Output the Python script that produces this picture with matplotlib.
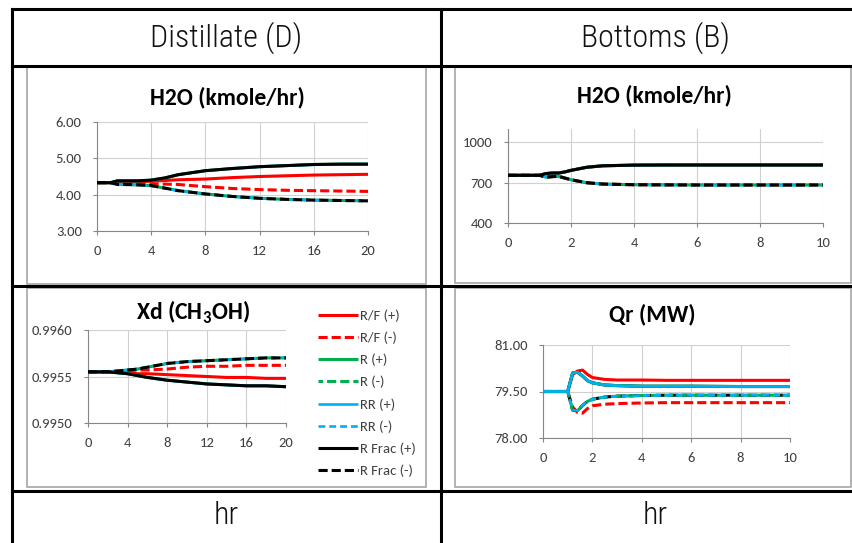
import numpy as np
import matplotlib
matplotlib.use("Agg")
import matplotlib.pyplot as plt
from matplotlib.lines import Line2D
from matplotlib.patches import Rectangle

W, H = 853, 543

# time axes (hr)
t20 = [0, 1, 1.5, 2, 3, 4, 5, 6, 8, 10, 12, 14, 16, 18, 20]
t10 = [0, 1, 1.2, 1.4, 1.6, 1.8, 2, 2.5, 3, 4, 5, 6, 8, 10]

labels = ["R/F (+)", "R/F (-)", "R (+)", "R (-)", "RR (+)", "RR (-)", "R Frac (+)", "R Frac (-)"]

# Distillate H2O (kmole/hr)
d_h2o_rf_p = [4.33, 4.33, 4.36, 4.36, 4.36, 4.37, 4.39, 4.41, 4.43, 4.47, 4.50, 4.52, 4.54, 4.55, 4.56]
d_h2o_rf_m = [4.33, 4.33, 4.31, 4.31, 4.31, 4.30, 4.29, 4.28, 4.22, 4.17, 4.14, 4.12, 4.11, 4.10, 4.09]
d_h2o_up = [4.33, 4.33, 4.38, 4.38, 4.38, 4.40, 4.46, 4.55, 4.66, 4.72, 4.77, 4.80, 4.83, 4.84, 4.84]
d_h2o_dn = [4.33, 4.33, 4.28, 4.28, 4.27, 4.25, 4.18, 4.11, 4.02, 3.95, 3.90, 3.87, 3.85, 3.84, 3.83]

# Bottoms H2O (kmole/hr)
b_h2o_up = [755, 755, 768, 772, 772, 780, 792, 815, 826, 831, 832, 832, 832, 832]
b_h2o_dn = [755, 755, 742, 745, 748, 735, 722, 700, 690, 685, 684, 683, 683, 683]

# Xd (CH3OH)
xd_rf_p = [0.99555, 0.99555, 0.99555, 0.99555, 0.99555, 0.99554, 0.99553, 0.99553, 0.99552, 0.99551, 0.99550, 0.99549, 0.99549, 0.99548, 0.99548]
xd_rf_m = [0.99555, 0.99555, 0.99555, 0.99555, 0.99555, 0.99556, 0.99557, 0.99557, 0.99558, 0.99560, 0.99561, 0.99561, 0.99562, 0.99562, 0.99562]
xd_up = [0.99555, 0.99555, 0.99555, 0.99555, 0.99554, 0.99553, 0.99551, 0.99549, 0.99546, 0.99544, 0.99542, 0.99541, 0.99540, 0.99540, 0.99539]
xd_dn = [0.99555, 0.99555, 0.99555, 0.99555, 0.99556, 0.99557, 0.99558, 0.99560, 0.99564, 0.99566, 0.99567, 0.99568, 0.99569, 0.99570, 0.99570]

# Qr (MW)
qr_rf_p = [79.5, 79.5, 80.05, 80.16, 80.19, 80.05, 79.95, 79.89, 79.87, 79.87, 79.86, 79.86, 79.86, 79.86]
qr_rf_m = [79.5, 79.5, 79.00, 78.82, 78.80, 78.95, 79.04, 79.09, 79.11, 79.13, 79.14, 79.14, 79.14, 79.14]
qr_up = [79.5, 79.5, 80.10, 80.12, 80.00, 79.85, 79.78, 79.71, 79.69, 79.67, 79.67, 79.67, 79.66, 79.66]
qr_dn = [79.5, 79.5, 78.90, 78.88, 79.05, 79.18, 79.25, 79.32, 79.35, 79.37, 79.38, 79.38, 79.38, 79.38]

RED, GREEN, CYAN, BLACK = "#FF0000", "#00B050", "#00B0F0", "#000000"
styles = [
    dict(color=RED, lw=2.2, ls="-"),
    dict(color=RED, lw=2.2, ls=(0, (3, 1.3))),
    dict(color=GREEN, lw=2.2, ls="-"),
    dict(color=GREEN, lw=2.2, ls=(1.5, (3, 1.3))),
    dict(color=CYAN, lw=1.9, ls="-"),
    dict(color=CYAN, lw=1.9, ls=(0, (2.6, 1.5))),
    dict(color=BLACK, lw=2.2, ls="-"),
    dict(color=BLACK, lw=2.2, ls=(0, (3, 1.3))),
]

CHART_FONT = ["Carlito", "Lato", "DejaVu Sans"]
HEAD_FONT = ["Roboto Condensed", "PT Sans Narrow", "DejaVu Sans"]
plt.rcParams["mathtext.fontset"] = "custom"
plt.rcParams["mathtext.bf"] = "Carlito:bold"


def fbox(x0, y0, x1, y1):
    return [x0 / W, 1 - y1 / H, (x1 - x0) / W, (y1 - y0) / H]


def fline(fig, x0, y0, x1, y1, **kw):
    fig.add_artist(Line2D([x0 / W, x1 / W], [1 - y0 / H, 1 - y1 / H],
                          transform=fig.transFigure, **kw))


def excel_axes(fig, box, xlim, xticks, ylim, yticks, yfmt):
    ax = fig.add_axes(fbox(*box))
    ax.set_xlim(*xlim)
    ax.set_ylim(*ylim)
    ax.set_xticks(xticks)
    ax.set_yticks(yticks)
    ax.set_yticklabels([yfmt.format(v) for v in yticks])
    for s in ["top", "right"]:
        ax.spines[s].set_visible(False)
    for s in ["left", "bottom"]:
        ax.spines[s].set_color("#868686")
        ax.spines[s].set_linewidth(0.8)
    ax.grid(True, color="#D0D0D0", lw=0.8)
    ax.set_axisbelow(True)
    ax.tick_params(length=3, width=0.8, color="#868686", labelsize=10.5,
                   labelcolor="#404040")
    ax.tick_params(axis="x", pad=7)
    ax.tick_params(axis="y", pad=8)
    for lab in ax.get_xticklabels() + ax.get_yticklabels():
        lab.set_family(CHART_FONT)
    ax.patch.set_alpha(0)
    return ax


def plot_series(ax, t, series, zorders=None):
    handles = []
    for i, y in enumerate(series):
        st = styles[i]
        z = 2 + i if zorders is None else zorders[i]
        h, = ax.plot(t, y, color=st["color"], lw=st["lw"], ls=st["ls"],
                     zorder=z, clip_on=False, solid_capstyle="butt")
        handles.append(h)
    return handles


fig = plt.figure(figsize=(W / 100, H / 100), dpi=100)

# table grid
tk = dict(color="black", lw=2.2, solid_capstyle="projecting")
fline(fig, 12, 9, 853, 9, **tk)
fline(fig, 12, 66, 853, 66, **tk)
fline(fig, 12, 286, 853, 286, **tk)
fline(fig, 12, 491, 853, 491, **tk)
fline(fig, 12, 9, 12, 543, **tk)
fline(fig, 441, 9, 441, 543, **tk)

head_kw = dict(ha="center", va="center", fontsize=23, family=HEAD_FONT,
               fontweight="light", color="#111111")
fig.text(226 / W, 1 - 38 / H, "Distillate (D)", **head_kw)
fig.text(655 / W, 1 - 38 / H, "Bottoms (B)", **head_kw)
fig.text(226 / W, 1 - 516 / H, "hr", **head_kw)
fig.text(655 / W, 1 - 516 / H, "hr", **head_kw)

# chart-area frames
for (x0, y0, x1, y1) in [(27, 67, 426, 284), (455, 67, 851, 283),
                         (27, 288, 426, 487), (455, 288, 851, 487)]:
    fig.add_artist(Rectangle((x0 / W, 1 - y1 / H), (x1 - x0) / W, (y1 - y0) / H,
                             transform=fig.transFigure, fill=False,
                             edgecolor="#A6A6A6", lw=1.2))

title_kw = dict(ha="center", va="center", fontsize=17, fontweight="bold",
                family=CHART_FONT, color="black")

# Distillate H2O
ax1 = excel_axes(fig, (97, 122, 368, 231), (0, 20), [0, 4, 8, 12, 16, 20],
                 (3, 6), [3, 4, 5, 6], "{:.2f}")
plot_series(ax1, t20, [d_h2o_rf_p, d_h2o_rf_m, d_h2o_up, d_h2o_dn,
                       d_h2o_up, d_h2o_dn, d_h2o_up, d_h2o_dn])
fig.text(227 / W, 1 - 97 / H, "H2O (kmole/hr)", **title_kw)

# Bottoms H2O
ax2 = excel_axes(fig, (508, 129, 823, 223), (0, 10), [0, 2, 4, 6, 8, 10],
                 (400, 1100), [400, 700, 1000], "{:.0f}")
plot_series(ax2, t10, [b_h2o_up, b_h2o_dn, b_h2o_up, b_h2o_dn,
                       b_h2o_up, b_h2o_dn, b_h2o_up, b_h2o_dn])
fig.text(654 / W, 1 - 95 / H, "H2O (kmole/hr)", **title_kw)

# Xd
ax3 = excel_axes(fig, (88, 330, 286, 423), (0, 20), [0, 4, 8, 12, 16, 20],
                 (0.9950, 0.9960), [0.9950, 0.9955, 0.9960], "{:.4f}")
hs = plot_series(ax3, t20, [xd_rf_p, xd_rf_m, xd_up, xd_dn,
                            xd_up, xd_dn, xd_up, xd_dn])
fig.text(193 / W, 1 - 312 / H, "Xd (CH$_\\mathbf{3}$OH)", **title_kw)
leg = fig.legend(hs, labels, loc="upper left", bbox_to_anchor=(311 / W, 1 - 302 / H),
                 frameon=False, handlelength=2.7, handletextpad=0.15,
                 labelspacing=0.66, borderpad=0,
                 prop=dict(family=CHART_FONT, size=10.5))
for txt in leg.get_texts():
    txt.set_color("#404040")

# Qr
ax4 = excel_axes(fig, (543, 345, 790, 438), (0, 10), [0, 2, 4, 6, 8, 10],
                 (78, 81), [78, 79.5, 81], "{:.2f}")
plot_series(ax4, t10, [qr_rf_p, qr_rf_m, qr_up, qr_dn, qr_up, qr_dn, qr_up, qr_dn],
            zorders=[2, 3, 5, 5, 6, 6, 4, 4])
fig.text(652 / W, 1 - 314 / H, "Qr (MW)", **title_kw)

fig.savefig("out.png", dpi=100)
